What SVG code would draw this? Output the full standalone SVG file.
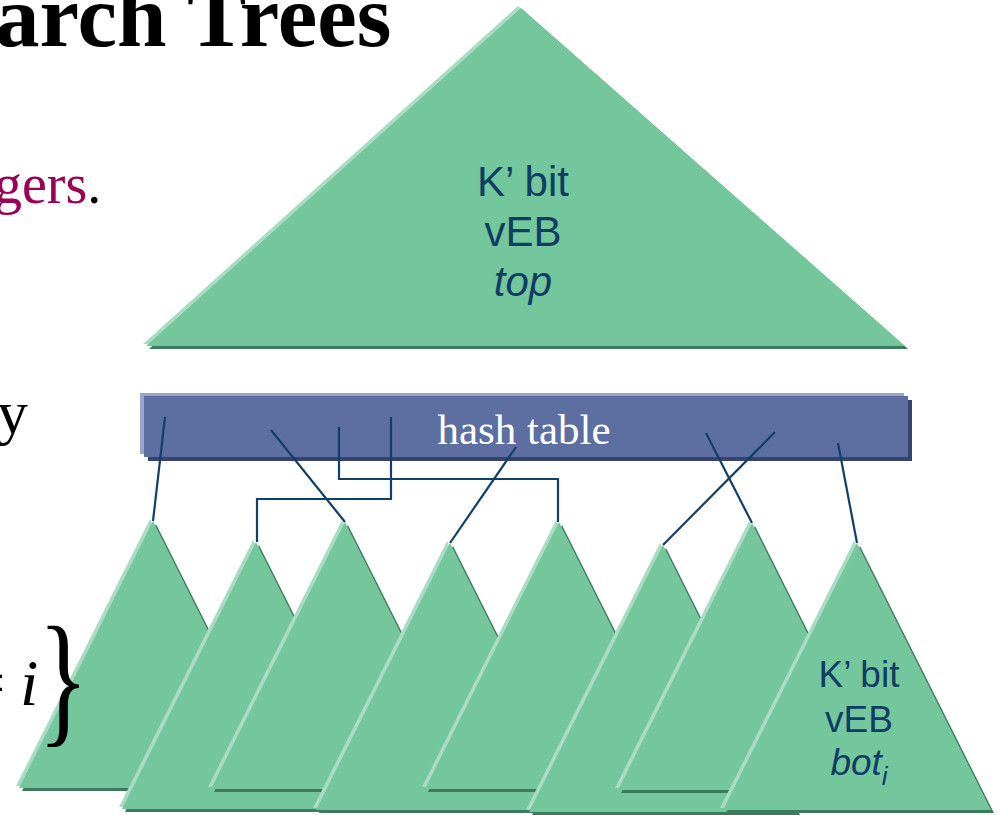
<svg xmlns="http://www.w3.org/2000/svg" xmlns:xlink="http://www.w3.org/1999/xlink" width="1000" height="815" viewBox="0 0 1000 815">
<style>
.tri{fill:#74c69d}
.hl{fill:#abdcc3}
.sh{fill:#3f7a5c}
.ht{fill:#5d6fa0}
.hthl{fill:#9ca4c9}
.htsh{fill:#34446a}
.conn{fill:none;stroke:#123f66;stroke-width:2.2}
.lbl{font-family:"Liberation Sans",Arial,sans-serif;fill:#0f3d63;text-anchor:middle}
.serif{font-family:"Liberation Serif","Times New Roman",serif}
</style>
<defs>
<polygon id="bt" points="0,0 -134,267 134,267"/>
<polygon id="tt" points="0,0 -375,338 384,338"/>
</defs>
<rect width="1000" height="815" fill="#ffffff"/>

<g id="top">
<use xlink:href="#tt" href="#tt" class="hl" transform="translate(518,6)"/>
<use xlink:href="#tt" href="#tt" class="sh" transform="translate(524,11)"/>
<use xlink:href="#tt" href="#tt" class="tri" transform="translate(521,8)"/>
<text class="lbl" font-size="42"><tspan x="523" y="196">K’ bit</tspan><tspan x="523" y="246">vEB</tspan><tspan x="523" y="296" font-style="italic">top</tspan></text>
</g>

<g id="hashtable">
<rect class="hthl" x="140" y="393" width="764" height="61"/>
<rect class="htsh" x="148" y="400" width="764" height="61"/>
<rect class="ht" x="144" y="396" width="764" height="61"/>
<text class="serif" x="524" y="444" font-size="43" fill="#ffffff" text-anchor="middle">hash table</text>
</g>

<g id="connectors">
<line class="conn" x1="165" y1="417" x2="153" y2="521"/>
<line class="conn" x1="271" y1="430" x2="345" y2="522"/>
<polyline class="conn" points="339,427 339,479 558,479 558,522"/>
<polyline class="conn" points="391,417 391,499 257,499 257,542"/>
<line class="conn" x1="516" y1="447" x2="450" y2="543"/>
<line class="conn" x1="706" y1="433" x2="752" y2="523"/>
<line class="conn" x1="775" y1="432" x2="663" y2="545"/>
<line class="conn" x1="838" y1="443" x2="857" y2="543"/>
</g>

<g id="bot1" transform="translate(153,521)"><use href="#bt" xlink:href="#bt" class="hl" x="-3" y="-2"/><use href="#bt" xlink:href="#bt" class="sh" x="3" y="3"/><use href="#bt" xlink:href="#bt" class="tri"/></g>
<g id="bot2" transform="translate(256,542)"><use href="#bt" xlink:href="#bt" class="hl" x="-3" y="-2"/><use href="#bt" xlink:href="#bt" class="sh" x="3" y="3"/><use href="#bt" xlink:href="#bt" class="tri"/></g>
<g id="bot3" transform="translate(345,522)"><use href="#bt" xlink:href="#bt" class="hl" x="-3" y="-2"/><use href="#bt" xlink:href="#bt" class="sh" x="3" y="3"/><use href="#bt" xlink:href="#bt" class="tri"/></g>
<g id="bot4" transform="translate(450,543)"><use href="#bt" xlink:href="#bt" class="hl" x="-3" y="-2"/><use href="#bt" xlink:href="#bt" class="sh" x="3" y="3"/><use href="#bt" xlink:href="#bt" class="tri"/></g>
<g id="bot5" transform="translate(559,522)"><use href="#bt" xlink:href="#bt" class="hl" x="-3" y="-2"/><use href="#bt" xlink:href="#bt" class="sh" x="3" y="3"/><use href="#bt" xlink:href="#bt" class="tri"/></g>
<g id="bot6" transform="translate(663,545)"><use href="#bt" xlink:href="#bt" class="hl" x="-3" y="-2"/><use href="#bt" xlink:href="#bt" class="sh" x="3" y="3"/><use href="#bt" xlink:href="#bt" class="tri"/></g>
<g id="bot7" transform="translate(752,523)"><use href="#bt" xlink:href="#bt" class="hl" x="-3" y="-2"/><use href="#bt" xlink:href="#bt" class="sh" x="3" y="3"/><use href="#bt" xlink:href="#bt" class="tri"/></g>
<g id="bot8" transform="translate(857,543)"><use href="#bt" xlink:href="#bt" class="hl" x="-3" y="-2"/><use href="#bt" xlink:href="#bt" class="sh" x="3" y="3"/><use href="#bt" xlink:href="#bt" class="tri"/>
<text class="lbl" font-size="37"><tspan x="2" y="144">K’ bit</tspan><tspan x="2" y="189">vEB</tspan><tspan x="2" y="232" font-style="italic">bot<tspan font-size="26" dy="10">i</tspan></tspan></text>
</g>

<g id="slidetext">
<text class="serif" x="-5" y="46" font-size="89" font-weight="bold" fill="#000000">arch Trees</text>
<text class="serif" x="-6" y="203" font-size="56"><tspan fill="#990055">gers</tspan><tspan fill="#000000">.</tspan></text>
<text class="serif" x="-3" y="433" font-size="62" fill="#000000">y</text>
<text class="serif" x="-32" y="705" font-size="66" fill="#000000">=</text>
<text class="serif" x="20" y="705" font-size="66" font-style="italic" fill="#000000">i</text>
<text class="serif" transform="translate(38,727) scale(0.72,1)" font-size="146" fill="#000000">}</text>
</g>
</svg>
